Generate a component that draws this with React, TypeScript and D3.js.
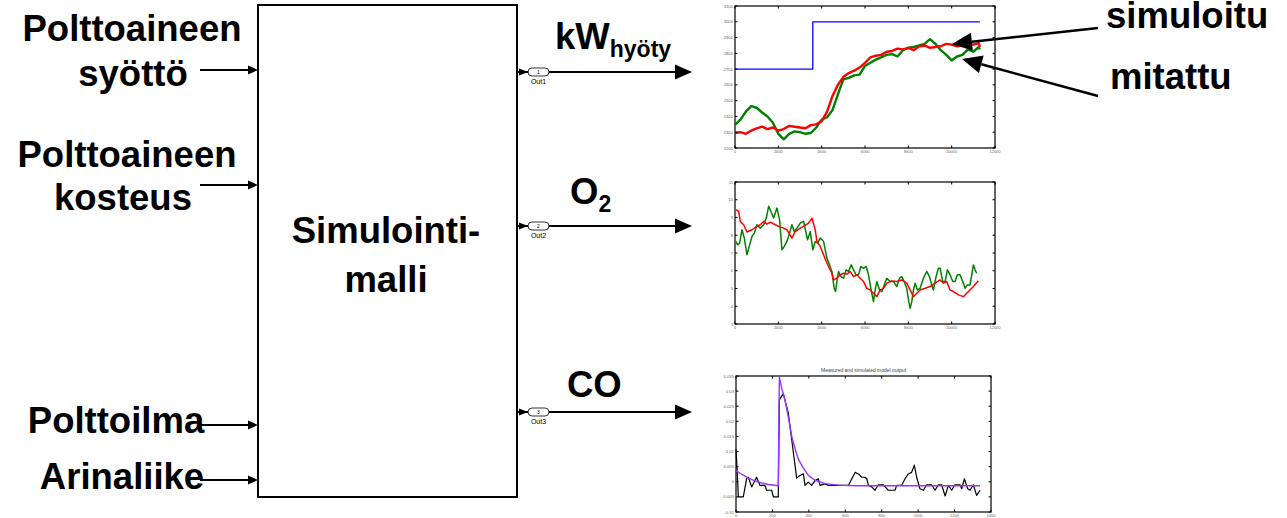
import React from 'react';
import * as d3 from 'd3';

const FONT = "'Liberation Sans', Arial, Helvetica, sans-serif";

// --- kW hyöty (top chart) ---
const kwTime = [0, 250, 500, 750, 1000, 1250, 1500, 1750, 2000, 2250, 2500, 2750, 3000, 3250, 3500, 3750, 4000, 4250, 4500, 4750, 5000, 5250, 5500, 5750, 6000, 6250, 6500, 6750, 7000, 7250, 7500, 7750, 8000, 8250, 8500, 8750, 9000, 9250, 9500, 9750, 10000, 10250, 10500, 10750, 11000, 11250, 11300];
const kwSimuloitu = [2295, 2300, 2290, 2310, 2325, 2335, 2320, 2330, 2310, 2320, 2340, 2335, 2330, 2325, 2345, 2350, 2370, 2430, 2530, 2600, 2650, 2675, 2690, 2710, 2740, 2775, 2785, 2790, 2810, 2815, 2830, 2825, 2835, 2820, 2845, 2850, 2835, 2840, 2845, 2860, 2855, 2845, 2850, 2860, 2855, 2865, 2840];
const kwMitattu = [2347, 2380, 2430, 2465, 2455, 2425, 2400, 2360, 2290, 2255, 2290, 2305, 2300, 2290, 2295, 2330, 2380, 2395, 2440, 2540, 2635, 2645, 2660, 2665, 2720, 2740, 2760, 2775, 2790, 2795, 2780, 2820, 2835, 2840, 2850, 2860, 2890, 2860, 2820, 2790, 2755, 2780, 2790, 2825, 2810, 2840, 2825];
const kwSetTime = [0, 3590, 3590, 11300];
const kwSetValue = [2700, 2700, 3000, 3000];
const kwYTicks = [2200, 2300, 2400, 2500, 2600, 2700, 2800, 2900, 3000, 3100];
const xTicks12000 = [0, 2000, 4000, 6000, 8000, 10000, 12000];

// --- O2 (middle chart) ---
const o2SimTime = [46, 169, 246, 400, 553, 784, 1014, 1168, 1322, 1475, 1629, 1859, 2013, 2243, 2397, 2627, 2781, 3012, 3165, 3395, 3549, 3703, 3780, 3933, 4087, 4210, 4317, 4471, 4548, 4701, 4855, 5009, 5163, 5316, 5470, 5624, 5777, 5931, 6085, 6238, 6392, 6546, 6699, 6853, 7007, 7237, 7468, 7698, 7929, 8082, 8236, 8390, 8543, 8774, 9004, 9234, 9465, 9619, 9772, 9926, 10080, 10310, 10541, 10694, 10848, 11002, 11232];
const o2Simuloitu = [9.44, 9.34, 8.78, 8.59, 8.18, 8.31, 8.5, 8.59, 8.78, 8.63, 8.74, 8.59, 8.5, 8.4, 8.31, 7.84, 8.21, 8.4, 8.5, 8.68, 8.97, 8.31, 7.65, 7.37, 6.9, 6.52, 6.24, 5.86, 5.48, 5.58, 5.77, 5.86, 5.81, 5.96, 5.67, 5.77, 5.58, 5.39, 5.01, 4.92, 4.73, 4.54, 4.92, 5.01, 5.3, 5.43, 5.39, 5.48, 5.3, 4.92, 4.54, 4.73, 4.92, 5.01, 5.11, 5.3, 5.48, 5.3, 5.39, 4.92, 4.83, 4.64, 4.54, 4.73, 4.92, 5.11, 5.43];
const o2MeasTime = [46, 123, 215, 323, 430, 553, 676, 784, 891, 1014, 1168, 1322, 1444, 1552, 1659, 1782, 1936, 2059, 2166, 2274, 2397, 2520, 2627, 2735, 2858, 3012, 3165, 3349, 3472, 3595, 3703, 3811, 3933, 4087, 4241, 4364, 4471, 4579, 4640, 4701, 4778, 4886, 5009, 5132, 5239, 5362, 5470, 5593, 5701, 5808, 5931, 6054, 6162, 6269, 6392, 6469, 6546, 6669, 6776, 6884, 7007, 7160, 7314, 7468, 7591, 7698, 7806, 7929, 8021, 8082, 8159, 8236, 8313, 8420, 8543, 8697, 8851, 8974, 9081, 9158, 9281, 9388, 9465, 9588, 9696, 9803, 9926, 10049, 10157, 10264, 10387, 10510, 10618, 10725, 10848, 10925, 11002, 11079, 11155];
const o2Mitattu = [7.65, 7.46, 7.56, 8.31, 7.84, 6.9, 7.46, 7.93, 8.12, 8.59, 8.4, 8.59, 8.97, 9.63, 9.34, 8.97, 9.53, 8.87, 7.18, 7.37, 7.65, 8.12, 8.59, 8.21, 8.4, 8.68, 8.78, 7.74, 8.21, 7.18, 7.65, 7.56, 7.84, 7.65, 6.71, 6.33, 5.96, 5.01, 4.83, 5.39, 5.96, 5.67, 5.58, 6.05, 5.96, 6.33, 6.05, 5.77, 5.77, 6.24, 6.14, 6.24, 5.77, 5.01, 4.26, 4.92, 5.39, 4.92, 4.83, 5.2, 5.58, 5.39, 5.39, 5.11, 5.58, 5.67, 5.39, 5.01, 4.26, 3.88, 4.26, 4.92, 5.3, 4.92, 5.01, 5.58, 5.96, 5.67, 5.2, 4.92, 5.67, 6.14, 6.14, 5.39, 5.39, 6.05, 5.77, 5.39, 5.39, 5.77, 5.77, 5.39, 5.01, 5.2, 5.2, 5.77, 6.33, 6.05, 5.86];
const o2YTicks = [3, 4, 5, 6, 7, 8, 9, 10, 11];

// --- CO (bottom chart) ---
const coMeasTime = [0, 5, 13, 40, 59, 68, 86, 113, 132, 159, 168, 196, 205, 232, 238, 260, 287, 315, 333, 351, 370, 379, 397, 415, 434, 452, 461, 489, 507, 617, 636, 654, 672, 690, 708, 718, 727, 745, 763, 781, 809, 836, 873, 882, 909, 928, 946, 964, 979, 992, 1010, 1029, 1047, 1074, 1093, 1111, 1129, 1148, 1166, 1184, 1202, 1230, 1239, 1254, 1272, 1285, 1303, 1321, 1340];
const coMitattu = [0.0108, 0.0053, -0.005, -0.005, 0.0012, 0.0015, -0.0017, 0.0015, -0.0012, -0.0012, -0.0028, -0.0028, -0.005, -0.005, 0.0271, 0.0292, 0.0227, 0.0097, 0.0012, 0.0021, 0.0026, -0.0012, -0.0001, -0.0012, 0.0004, 0.001, -0.0012, -0.0007, -0.0012, -0.0012, 0.001, 0.0031, 0.0026, 0.0015, 0.0015, 0.001, -0.0012, -0.0017, -0.0028, -0.001, -0.001, -0.0028, -0.0028, -0.0012, -0.0012, 0.001, 0.0026, 0.0031, 0.0055, 0.0015, -0.0023, -0.0028, -0.001, -0.001, -0.0028, -0.001, -0.001, -0.0047, -0.0012, -0.0028, -0.001, -0.001, -0.0023, 0.001, -0.0023, -0.0028, -0.001, -0.0045, -0.0028];
const coSimTime = [0, 31, 68, 104, 141, 178, 232, 238, 251, 269, 287, 306, 324, 342, 370, 397, 434, 489, 562, 654, 1340];
const coSimuloitu = [0.0037, 0.0025, 0.0012, 0.0003, -0.0004, -0.0009, -0.0013, 0.0345, 0.031, 0.027, 0.0215, 0.0151, 0.011, 0.0075, 0.0045, 0.0021, 0.0005, -0.0006, -0.0011, -0.0013, -0.0013];
const coYTicks = [-0.01, -0.005, 0, 0.005, 0.01, 0.015, 0.02, 0.025, 0.03, 0.035];
const coXTicks = [0, 200, 400, 600, 800, 1000, 1200, 1400];

type Series = { t: number[]; v: number[]; color: string; width: number };

function Panel(props: {
  x0: number; x1: number; y0: number; y1: number;
  xDomain: [number, number]; yDomain: [number, number];
  xTicks: number[]; yTicks: number[]; series: Series[]; title?: string;
}) {
  const { x0, x1, y0, y1, xDomain, yDomain, xTicks, yTicks, series, title } = props;
  const x = d3.scaleLinear().domain(xDomain).range([x0, x1]);
  const y = d3.scaleLinear().domain(yDomain).range([y1, y0]);
  const tl = 2.5;
  return (
    <g>
      <rect x={x0} y={y0} width={x1 - x0} height={y1 - y0} fill="#fff" stroke="#000" strokeWidth={1.2} />
      {series.map((s, k) => {
        const line = d3.line<number>().x((_, i) => x(s.t[i])).y(d => y(d));
        return <path key={k} d={line(s.v) || ''} fill="none" stroke={s.color} strokeWidth={s.width} strokeLinejoin="round" />;
      })}
      {xTicks.map(t => (
        <g key={'x' + t}>
          <line x1={x(t)} x2={x(t)} y1={y1} y2={y1 - tl} stroke="#000" strokeWidth={1} />
          <line x1={x(t)} x2={x(t)} y1={y0} y2={y0 + tl} stroke="#000" strokeWidth={1} />
          <text x={x(t)} y={y1 + 4.5} fontSize={4} fill="#666" textAnchor="middle" fontFamily={FONT}>{t}</text>
        </g>
      ))}
      {yTicks.map(t => (
        <g key={'y' + t}>
          <line x1={x0} x2={x0 + tl} y1={y(t)} y2={y(t)} stroke="#000" strokeWidth={1} />
          <line x1={x1} x2={x1 - tl} y1={y(t)} y2={y(t)} stroke="#000" strokeWidth={1} />
          <text x={x0 - 2} y={y(t) + 1.5} fontSize={4.2} fill="#666" textAnchor="end" fontFamily={FONT}>{String(t)}</text>
        </g>
      ))}
      {title && <text x={(x0 + x1) / 2} y={y0 - 4} fontSize={5} fill="#444" textAnchor="middle" fontFamily={FONT}>{title}</text>}
    </g>
  );
}

function InArrow({ y }: { y: number }) {
  return (
    <g>
      <line x1={200} x2={250} y1={y} y2={y} stroke="#000" strokeWidth={2} />
      <polygon points={`258,${y} 248,${y - 4.5} 248,${y + 4.5}`} fill="#000" />
    </g>
  );
}

function OutPort({ y, n }: { y: number; n: number }) {
  return (
    <g>
      <line x1={518} x2={680} y1={y} y2={y} stroke="#000" strokeWidth={2} />
      <polygon points={`528,${y} 519,${y - 3.5} 519,${y + 3.5}`} fill="#000" />
      <rect x={528} y={y - 4} width={21} height={8} rx={4} fill="#fff" stroke="#000" strokeWidth={0.8} />
      <text x={538.5} y={y + 1.8} fontSize={5} textAnchor="middle" fontFamily={FONT}>{n}</text>
      <text x={538.5} y={y + 12} fontSize={7} textAnchor="middle" fill="#000" fontFamily={FONT}>{'Out' + n}</text>
      <polygon points={`692,${y} 675,${y - 7.5} 675,${y + 7.5}`} fill="#000" />
    </g>
  );
}

function BigArrow({ x1, y1, x2, y2 }: { x1: number; y1: number; x2: number; y2: number }) {
  const a = Math.atan2(y2 - y1, x2 - x1);
  const L = 20, W = 9;
  const bx = x2 - L * Math.cos(a), by = y2 - L * Math.sin(a);
  const px = -Math.sin(a) * W, py = Math.cos(a) * W;
  return (
    <g>
      <line x1={x1} y1={y1} x2={bx} y2={by} stroke="#000" strokeWidth={2.5} />
      <polygon points={`${x2},${y2} ${bx + px},${by + py} ${bx - px},${by - py}`} fill="#000" />
    </g>
  );
}

export default function App() {
  const big = { fontFamily: FONT, fontWeight: 'bold' as const, fontSize: 36.5, fill: '#000' };
  return (
    <svg width={1287} height={518} style={{ position: 'absolute', left: 0, top: 0, background: '#fff' }}>
      <rect x={0} y={0} width={1287} height={518} fill="#fff" />
      {/* inputs */}
      <text {...big} x={132} y={41} textAnchor="middle">Polttoaineen</text>
      <text {...big} x={133} y={86} textAnchor="middle">syöttö</text>
      <text {...big} x={127} y={167} textAnchor="middle">Polttoaineen</text>
      <text {...big} x={123} y={210} textAnchor="middle">kosteus</text>
      <text {...big} x={116} y={433} textAnchor="middle">Polttoilma</text>
      <text {...big} x={122} y={489} textAnchor="middle">Arinaliike</text>
      <InArrow y={70} />
      <InArrow y={185} />
      <InArrow y={425} />
      <InArrow y={480} />

      {/* block */}
      <rect x={258} y={5} width={259} height={492} fill="#fff" stroke="#000" strokeWidth={2} />
      <text {...big} x={386} y={243} textAnchor="middle">Simulointi-</text>
      <text {...big} x={386} y={292} textAnchor="middle">malli</text>

      {/* outputs */}
      <OutPort y={72} n={1} />
      <OutPort y={226} n={2} />
      <OutPort y={412} n={3} />
      <text {...big} x={555} y={49}>kW<tspan fontSize={23} dy={8}>hyöty</tspan></text>
      <text {...big} x={570} y={204}>O<tspan fontSize={23} dy={8}>2</tspan></text>
      <text {...big} x={567} y={397}>CO</text>

      {/* charts */}
      <Panel x0={735} x1={995} y0={6} y1={148} xDomain={[0, 12000]} yDomain={[2200, 3100]}
        xTicks={xTicks12000} yTicks={kwYTicks}
        series={[
          { t: kwSetTime, v: kwSetValue, color: '#0000ff', width: 1.3 },
          { t: kwTime, v: kwMitattu, color: '#008000', width: 2.4 },
          { t: kwTime, v: kwSimuloitu, color: '#ff0000', width: 2.4 },
        ]} />
      <Panel x0={735} x1={995} y0={182} y1={324} xDomain={[0, 12000]} yDomain={[3, 11]}
        xTicks={xTicks12000} yTicks={o2YTicks}
        series={[
          { t: o2MeasTime, v: o2Mitattu, color: '#008000', width: 1.5 },
          { t: o2SimTime, v: o2Simuloitu, color: '#ff0000', width: 1.5 },
        ]} />
      <Panel x0={736} x1={991} y0={376} y1={512} xDomain={[0, 1400]} yDomain={[-0.01, 0.035]}
        xTicks={coXTicks} yTicks={coYTicks} title="Measured and simulated model output"
        series={[
          { t: coMeasTime, v: coMitattu, color: '#000000', width: 1.2 },
          { t: coSimTime, v: coSimuloitu, color: '#9933ff', width: 1.4 },
        ]} />

      {/* legend arrows */}
      <BigArrow x1={1098} y1={28} x2={952} y2={44} />
      <BigArrow x1={1098} y1={96} x2={962} y2={59} />
      <text {...big} x={1106} y={28}>simuloitu</text>
      <text {...big} x={1110} y={89}>mitattu</text>
    </svg>
  );
}
